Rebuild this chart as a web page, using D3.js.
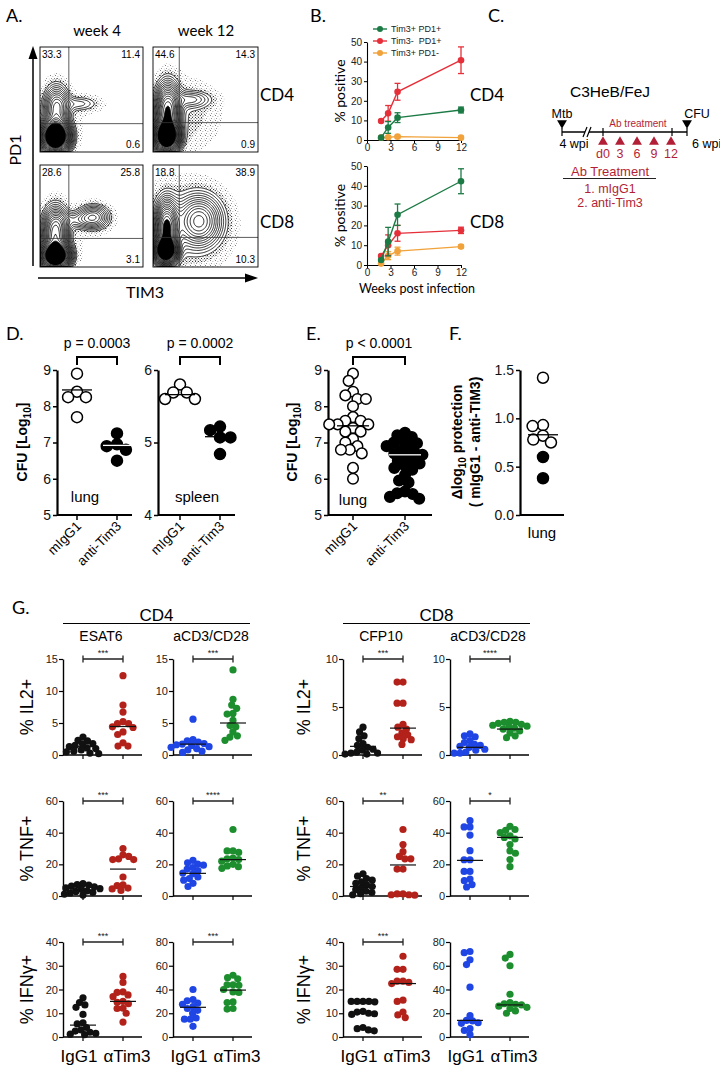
<!DOCTYPE html>
<html>
<head>
<meta charset="utf-8">
<title>Tim3 blockade figure</title>
<script src="https://d3js.org/d3.v7.min.js"></script>
<style>
  body { margin: 0; background: #fff; }
  svg { font-family: "Liberation Sans", Arial, sans-serif; }
  .soft { font-family: Lato, "Open Sans", sans-serif; }
  .tick text { font-family: "Liberation Sans", Arial, sans-serif; }
</style>
</head>
<body>
<svg width="720" height="1067"></svg>
<script>
// ---------- A: flow plots (quadrant %, gates, populations as gaussian blobs [u, v, su, sv, weight]) ----------
var flowCols = ["week 4", "week 12"];
var flowRows = ["CD4", "CD8"];
var quadPct = [["33.3", "11.4", "0.6"], ["44.6", "14.3", "0.9"], ["28.6", "25.8", "3.1"], ["18.8", "38.9", "10.3"]];
var gates = [[0.28, 0.27], [0.25, 0.28], [0.28, 0.28], [0.25, 0.29]];
var blobsCd4W4 = [[0.15, 0.15, 0.075, 0.085, 1.0], [0.16, 0.42, 0.07, 0.12, 0.22], [0.38, 0.46, 0.12, 0.045, 0.05], [0.25, 0.3, 0.2, 0.2, 0.006]];
var blobsCd4W12 = [[0.13, 0.15, 0.065, 0.08, 1.0], [0.14, 0.38, 0.065, 0.15, 0.5], [0.36, 0.5, 0.12, 0.05, 0.08], [0.28, 0.35, 0.22, 0.22, 0.025]];
var blobsCd8W4 = [[0.15, 0.11, 0.075, 0.07, 1.0], [0.15, 0.33, 0.07, 0.14, 0.4], [0.52, 0.49, 0.09, 0.07, 0.16], [0.34, 0.46, 0.14, 0.05, 0.06], [0.3, 0.3, 0.2, 0.2, 0.006]];
var blobsCd8W12 = [[0.12, 0.16, 0.06, 0.07, 1.0], [0.13, 0.38, 0.06, 0.15, 0.55], [0.44, 0.45, 0.12, 0.14, 0.28], [0.3, 0.4, 0.26, 0.26, 0.04]];
var flowLevels = [0.005, 0.014, 0.025, 0.035, 0.047, 0.06, 0.075, 0.092, 0.11, 0.13, 0.155, 0.18, 0.21, 0.24, 0.28, 0.32, 0.37, 0.42, 0.48, 0.55, 0.63, 0.72, 0.82, 0.92];

// ---------- B: % positive over weeks ----------
var bWeeks = [1.8, 2.7, 3.9, 12];
var bSeries = ["Tim3+ PD1+", "Tim3-  PD1+", "Tim3+ PD1-"];
var cd4DoublePos = [1.2, 6.4, 11.4, 15.3], cd4DoublePosErr = [0, 3, 2.5, 1.5];
var cd4Pd1Only = [9.7, 13.6, 24.6, 40.7], cd4Pd1OnlyErr = [0, 4, 4.3, 6.8];
var cd4Tim3Only = [1.2, 1.4, 1.7, 1.2], cd4Tim3OnlyErr = [0, 0.5, 0.6, 0.5];
var cd8DoublePos = [2.5, 11.8, 25.4, 42.3], cd8DoublePosErr = [0, 7.2, 5.4, 6.3];
var cd8Pd1Only = [4.5, 10, 16, 17.5], cd8Pd1OnlyErr = [0, 5.2, 4, 1.6];
var cd8Tim3Only = [0.7, 4.7, 7, 9.3], cd8Tim3OnlyErr = [0, 2, 2, 0.8];

// ---------- C: treatment schedule ----------
var doseDays = ["d0", "3", "6", "9", "12"];
var treatments = ["1. mIgG1", "2. anti-Tim3"];

// ---------- D / E / F: CFU ----------
var lungIgg1 = [8.9, 8.4, 8.25, 8.25, 7.7], lungTim3 = [7.25, 6.95, 6.9, 6.8, 6.5];
var spleenIgg1 = [5.8, 5.69, 5.69, 5.6, 5.6], spleenTim3 = [5.22, 5.17, 5.07, 5.07, 4.84];
var dMeans = [[8.45, 6.92], [5.66, 5.08]];
var eIgg1 = [8.9, 8.7, 8.4, 8.3, 8.2, 8.2, 8.0, 7.7, 7.6, 7.6, 7.5, 7.5, 7.5, 7.4, 7.3, 7.3, 7.1, 7.0, 6.9, 6.8, 6.8, 6.7, 6.3, 6.0];
var eTim3 = [7.27, 7.2, 7.15, 7.05, 7.0, 6.98, 6.9, 6.88, 6.8, 6.72, 6.7, 6.66, 6.6, 6.5, 6.48, 6.42, 6.35, 6.3, 6.25, 6.1, 5.95, 5.9, 5.65, 5.6, 5.58, 5.5, 5.45];
var eMeans = [7.46, 6.66];
var fOpen = [1.42, 0.93, 0.92, 0.82, 0.78, 0.75], fFilled = [0.6, 0.38], fMean = 0.83;

// ---------- G: cytokine dot plots ----------
var gStims = ["ESAT6", "aCD3/CD28", "CFP10", "aCD3/CD28"];
var gRows = ["% IL2+", "% TNF+", "% IFNγ+"];
var gGroups = ["IgG1", "αTim3"];
var gMax = [[15, 15, 10, 10], [60, 60, 60, 60], [40, 80, 40, 80]];
var gStep = [[5, 5, 5, 5], [20, 20, 20, 20], [10, 20, 10, 20]];
var gStars = [["***", "***", "***", "****"], ["***", "****", "**", "*"], ["***", "***", "***", ""]];
var il2Cd4Esat6Igg1 = [2.8, 2.3, 2.2, 1.8, 1.7, 1.5, 1.3, 1.1, 1.0, 0.8, 0.6, 0.5, 0.3, 0.2];
var il2Cd4Esat6Tim3 = [12.4, 7.8, 6.7, 5.2, 4.9, 4.9, 4.4, 4.3, 3.6, 3.2, 1.9, 1.4, 1.4];
var il2Cd4Cd3Igg1 = [5.6, 2.4, 2.2, 2.0, 1.8, 1.7, 1.6, 1.5, 1.3, 1.2, 1.0, 0.8, 0.6, 0.4];
var il2Cd4Cd3Tim3 = [13.3, 8.7, 7.8, 7.3, 6.5, 6.4, 5.4, 4.6, 4.4, 3.6, 3.0, 2.8, 2.3];
var il2Cd8Cfp10Igg1 = [2.9, 2.4, 2.0, 1.7, 1.2, 1.0, 0.8, 0.6, 0.5, 0.3, 0.2, 0.2, 0.1, 0.1];
var il2Cd8Cfp10Tim3 = [7.6, 7.6, 5.4, 5.4, 3.2, 2.9, 2.7, 2.3, 2.1, 1.9, 1.7, 1.6, 1.1];
var il2Cd8Cd3Igg1 = [2.2, 2.0, 1.9, 1.5, 1.3, 1.1, 1.0, 0.9, 0.8, 0.6, 0.5, 0.3, 0.2, 0.2];
var il2Cd8Cd3Tim3 = [3.5, 3.4, 3.4, 3.3, 3.2, 3.1, 3.0, 2.9, 2.8, 2.7, 2.5, 2.3, 2.0, 1.8];
var tnfCd4Esat6Igg1 = [7.8, 7.2, 6.9, 6.2, 5.8, 5.1, 4.6, 4.2, 3.3, 2.9, 2.2, 1.9, 1.2, 0.6];
var tnfCd4Esat6Tim3 = [30, 26, 25, 23.5, 23, 23, 12, 7, 6.5, 5, 4.5, 3.5];
var tnfCd4Cd3Igg1 = [22.5, 21, 20.2, 19.5, 18, 17, 16, 14.5, 14, 12, 11, 10, 8, 6];
var tnfCd4Cd3Tim3 = [42, 28.5, 28.5, 27.5, 24, 23.5, 23, 22, 20, 19, 18.5, 17.5];
var tnfCd8Cfp10Igg1 = [14, 12.5, 11, 10, 9, 8, 7, 6, 5.2, 4, 3, 2.2, 1.5, 0.8];
var tnfCd8Cfp10Tim3 = [42, 32.5, 28, 25, 23.5, 23.5, 17, 17, 1.3, 0.8, 0.8, 1.3, 0.5];
var tnfCd8Cd3Igg1 = [47.6, 43.6, 43.6, 38.5, 28.6, 22.9, 22.9, 15.5, 15.5, 10.7, 9.7, 7.2, 5.7];
var tnfCd8Cd3Tim3 = [44, 42, 41.5, 40, 38, 37, 36, 32.5, 28.5, 27, 23, 18.5];
var ifnCd4Esat6Igg1 = [16.5, 14.5, 13.5, 12.5, 9.5, 6, 5.5, 4, 3, 2.5, 2, 1.5, 1.2, 1];
var ifnCd4Esat6Tim3 = [25.5, 23, 19, 18.8, 17.7, 17, 15, 14.6, 14, 12.1, 12, 10, 6.3];
var ifnCd4Cd3Igg1 = [40, 31.5, 30.5, 28.5, 27.5, 25.5, 24, 22.5, 20, 16, 15, 15, 9];
var ifnCd4Cd3Tim3 = [52, 50, 49, 44, 44, 43.5, 40, 38, 37.5, 29.5, 29, 24, 23.5];
var ifnCd8Cfp10Igg1 = [15, 15, 15, 15, 14.8, 10.8, 10.5, 10, 9.8, 9.5, 4, 3.5, 3, 2.6];
var ifnCd8Cfp10Tim3 = [34, 28.5, 28.5, 23.5, 23, 22.5, 23.5, 15.5, 15, 10.5, 9.3, 8.2];
var ifnCd8Cd3Igg1 = [72, 71, 65, 61, 42, 18, 14, 13.5, 12, 11.5, 7, 5.5, 2];
var ifnCd8Cd3Tim3 = [69.5, 66.5, 60, 36, 29, 28, 27.5, 27, 26, 25, 24, 22, 20];
var il2Means = [[1.3, 4.45], [1.7, 5.0], [0.9, 2.8], [0.8, 2.7]];
var tnfMeans = [[3.8, 17], [14.3, 23], [6, 19.6], [22.5, 37]];
var ifnMeans = [[5, 15], [25, 39.5], [10, 22.5], [14, 27]];

var svg = d3.select("svg");

function label(x, y, s, size, opt) {
    opt = opt || {};
    var t = svg.append("text").attr("x", x).attr("y", y)
        .attr("font-size", size).attr("text-anchor", opt.anchor || "start")
        .attr("fill", opt.fill || "#000").text(s);
    if (opt.cls) t.attr("class", opt.cls);
    if (opt.bold) t.attr("font-weight", "bold");
    if (opt.rot) t.attr("transform", "rotate(" + opt.rot + "," + x + "," + y + ")");
    return t;
}

// non-overlapping dot layout, points pushed sideways from the group centre
function swarm(vals, y, cx, r, pack) {
    var d = 2 * r * (pack || 0.9), placed = [];
    vals.slice().sort(function(a, b) { return b - a; }).forEach(function(v) {
        var py = y(v), cands = [cx];
        placed.forEach(function(q) {
            var dy = Math.abs(q.y - py);
            if (dy < d) {
                var dx = Math.sqrt(d * d - dy * dy);
                cands.push(q.x - dx, q.x + dx);
            }
        });
        cands.sort(function(a, b) { return Math.abs(a - cx) - Math.abs(b - cx); });
        var px = cands.find(function(x) {
            return placed.every(function(q) { return (q.x - x) * (q.x - x) + (q.y - py) * (q.y - py) >= d * d - 0.01; });
        });
        placed.push({x: px, y: py, v: v});
    });
    return placed;
}

// ================= A =================
label(6, 22, "A.", 18, {cls: "soft"});
label(97, 36, flowCols[0], 15, {anchor: "middle", cls: "soft"});
label(206, 36, flowCols[1], 15, {anchor: "middle", cls: "soft"});
label(260, 101, flowRows[0], 17, {cls: "soft"});
label(260, 228, flowRows[1], 17, {cls: "soft"});

var defs = svg.append("defs");
var pat = defs.append("pattern").attr("id", "speck").attr("width", 5).attr("height", 5)
    .attr("patternUnits", "userSpaceOnUse");
[[0, 0, 0.8], [2.6, 1.3, 0.6], [1.2, 3.1, 0.7], [3.9, 3.8, 0.5]].forEach(function(p) {
    pat.append("rect").attr("x", p[0]).attr("y", p[1]).attr("width", p[2]).attr("height", p[2]).attr("fill", "#333");
});
var pat2 = defs.append("pattern").attr("id", "speck2").attr("width", 3).attr("height", 3)
    .attr("patternUnits", "userSpaceOnUse");
[[0, 0, 0.9], [1.6, 1.5, 0.8]].forEach(function(p) {
    pat2.append("rect").attr("x", p[0]).attr("y", p[1]).attr("width", p[2]).attr("height", p[2]).attr("fill", "#111");
});

var flowBoxes = [{x: 40, y: 47, w: 103, h: 105}, {x: 153, y: 47, w: 105, h: 105},
                 {x: 40, y: 165, w: 103, h: 102}, {x: 153, y: 165, w: 105, h: 102}];
var flowBlobs = [blobsCd4W4, blobsCd4W12, blobsCd8W4, blobsCd8W12];

flowBoxes.forEach(function(b, k) {
    var nx = 120, ny = 120, grid = new Array(nx * ny);
    for (var j = 0; j < ny; j++) {
        for (var i = 0; i < nx; i++) {
            var u = (i + 0.5) / nx, v = 1 - (j + 0.5) / ny, s = 0;
            flowBlobs[k].forEach(function(p) {
                var a = (u - p[0]) / p[2], c = (v - p[1]) / p[3];
                s += p[4] * Math.exp(-0.5 * (a * a + c * c));
            });
            grid[j * nx + i] = s;
        }
    }
    var mx = d3.max(grid);
    grid = grid.map(function(d) { return d / mx; });
    var conts = d3.contours().size([nx, ny]).thresholds(flowLevels)(grid);
    var path = d3.geoPath(d3.geoTransform({point: function(x, y) {
        this.stream.point(b.x + x * b.w / nx, b.y + y * b.h / ny);
    }}));
    var cid = "clip" + k;
    defs.append("clipPath").attr("id", cid).append("rect")
        .attr("x", b.x).attr("y", b.y).attr("width", b.w).attr("height", b.h);
    var g = svg.append("g").attr("clip-path", "url(#" + cid + ")");
    g.append("path").attr("d", path(conts[0])).attr("fill", "url(#speck)");
    g.append("path").attr("d", path(conts[1])).attr("fill", "url(#speck2)");
    g.append("path").attr("d", path(conts[2])).attr("fill", "#fff");
    g.selectAll("path.c").data(conts.slice(2)).join("path").attr("class", "c")
        .attr("d", path).attr("fill", "none").attr("stroke", "#000").attr("stroke-width", 0.85);
    g.append("path").attr("d", path(conts[17])).attr("fill", "#000");
    var gx = b.x + gates[k][0] * b.w, gy = b.y + (1 - gates[k][1]) * b.h;
    svg.append("line").attr("x1", gx).attr("x2", gx).attr("y1", b.y).attr("y2", b.y + b.h)
        .attr("stroke", "#333").attr("stroke-width", 0.8);
    svg.append("line").attr("x1", b.x).attr("x2", b.x + b.w).attr("y1", gy).attr("y2", gy)
        .attr("stroke", "#333").attr("stroke-width", 0.8);
    svg.append("rect").attr("x", b.x).attr("y", b.y).attr("width", b.w).attr("height", b.h)
        .attr("fill", "none").attr("stroke", "#000").attr("stroke-width", 0.9);
    label(b.x + 2, b.y + 11, quadPct[k][0], 10);
    label(b.x + b.w - 3, b.y + 11, quadPct[k][1], 10, {anchor: "end"});
    label(b.x + b.w - 3, b.y + b.h - 4, quadPct[k][2], 10, {anchor: "end"});
});

// axis arrows
svg.append("line").attr("x1", 33).attr("x2", 33).attr("y1", 266).attr("y2", 56).attr("stroke", "#000").attr("stroke-width", 1.5);
svg.append("path").attr("d", "M33,46 L28.5,59 L37.5,59 Z").attr("fill", "#000");
svg.append("line").attr("x1", 38).attr("x2", 248).attr("y1", 278).attr("y2", 278).attr("stroke", "#000").attr("stroke-width", 1.5);
svg.append("path").attr("d", "M258,278 L245,273.5 L245,282.5 Z").attr("fill", "#000");
label(21, 150, "PD1", 16, {anchor: "middle", rot: -90, cls: "soft"});
label(145, 298, "TIM3", 16, {anchor: "middle", cls: "soft"});

// ================= B =================
label(310, 22, "B.", 18, {cls: "soft"});
var bColors = ["#1c7a45", "#e5303a", "#f1a23a"];
var bx = d3.scaleLinear().domain([0, 12]).range([367, 461]);

function linePanel(yTop, yBot, vals, errs, legend) {
    var y = d3.scaleLinear().domain([0, 50]).range([yBot, yTop]);
    var ax = svg.append("g").attr("transform", "translate(367,0)")
        .call(d3.axisLeft(y).tickValues([0, 10, 20, 30, 40, 50]).tickSize(3).tickSizeOuter(0).tickPadding(2));
    var bxAxis = svg.append("g").attr("transform", "translate(0," + yBot + ")")
        .call(d3.axisBottom(bx).tickValues([0, 3, 6, 9, 12]).tickSize(3).tickSizeOuter(0).tickPadding(1));
    [ax, bxAxis].forEach(function(a) {
        a.selectAll("text").attr("font-size", 10).attr("fill", "#222");
        a.select(".domain").attr("stroke-width", 1.1);
    });
    [2, 1, 0].forEach(function(s) {
        var pts = bWeeks.map(function(w, i) { return {x: bx(w), y: y(vals[s][i]), lo: y(vals[s][i] - errs[s][i]), hi: y(vals[s][i] + errs[s][i])}; });
        var g = svg.append("g").attr("stroke", bColors[s]).attr("fill", bColors[s]);
        g.append("path").attr("d", d3.line().x(function(d) { return d.x; }).y(function(d) { return d.y; })(pts))
            .attr("fill", "none").attr("stroke-width", 1.4);
        pts.forEach(function(p) {
            if (p.hi !== p.y) {
                g.append("line").attr("x1", p.x).attr("x2", p.x).attr("y1", p.lo).attr("y2", p.hi).attr("stroke-width", 1.3);
                g.append("line").attr("x1", p.x - 3).attr("x2", p.x + 3).attr("y1", p.lo).attr("y2", p.lo).attr("stroke-width", 1.3);
                g.append("line").attr("x1", p.x - 3).attr("x2", p.x + 3).attr("y1", p.hi).attr("y2", p.hi).attr("stroke-width", 1.3);
            }
            g.append("circle").attr("cx", p.x).attr("cy", p.y).attr("r", 3.3).attr("stroke", "none");
        });
    });
    if (legend) {
        bSeries.forEach(function(name, s) {
            var ly = 29 + s * 12;
            svg.append("line").attr("x1", 373).attr("x2", 387).attr("y1", ly).attr("y2", ly).attr("stroke", bColors[s]).attr("stroke-width", 1.4);
            svg.append("circle").attr("cx", 380).attr("cy", ly).attr("r", 3).attr("fill", bColors[s]);
            label(391, ly + 3, name, 9, {fill: "#222"}).attr("xml:space", "preserve");
        });
    }
    label(345, (yTop + yBot) / 2, "% positive", 14, {anchor: "middle", rot: -90, cls: "soft"});
}
linePanel(42, 140, [cd4DoublePos, cd4Pd1Only, cd4Tim3Only], [cd4DoublePosErr, cd4Pd1OnlyErr, cd4Tim3OnlyErr], true);
linePanel(166, 265, [cd8DoublePos, cd8Pd1Only, cd8Tim3Only], [cd8DoublePosErr, cd8Pd1OnlyErr, cd8Tim3OnlyErr], false);
label(470, 101, "CD4", 17, {cls: "soft"});
label(470, 228, "CD8", 17, {cls: "soft"});
label(417, 293, "Weeks post infection", 12.5, {anchor: "middle", cls: "soft"});

// ================= C =================
var cRed = "#b31f36";
label(488, 22, "C.", 18, {cls: "soft"});
label(610, 97, "C3HeB/FeJ", 15.5, {anchor: "middle"});
var tri = d3.symbol().type(d3.symbolTriangle).size(42);
svg.append("line").attr("x1", 562).attr("x2", 687).attr("y1", 132).attr("y2", 132).attr("stroke", "#000").attr("stroke-width", 1.4);
[562, 603, 672, 687].forEach(function(x) {
    svg.append("line").attr("x1", x).attr("x2", x).attr("y1", 128).attr("y2", 136).attr("stroke", "#000").attr("stroke-width", 1.2);
});
svg.append("rect").attr("x", 585).attr("y", 128).attr("width", 4).attr("height", 8).attr("fill", "#fff");
[585, 589].forEach(function(x) {
    svg.append("line").attr("x1", x - 2).attr("x2", x + 2).attr("y1", 137).attr("y2", 127).attr("stroke", "#000").attr("stroke-width", 1.2);
});
[562, 687].forEach(function(x) {
    svg.append("path").attr("d", tri()).attr("transform", "translate(" + x + ",123) rotate(180)").attr("fill", "#000");
});
label(562, 118, "Mtb", 12.5, {anchor: "middle"});
label(697, 118, "CFU", 12.5, {anchor: "middle"});
label(638, 127, "Ab treatment", 10, {anchor: "middle", fill: cRed});
label(574, 148, "4 wpi", 12.5, {anchor: "middle"});
label(692, 148, "6 wpi", 12.5);
var doseX = d3.scalePoint().domain(doseDays).range([603, 671]);
doseDays.forEach(function(d) {
    svg.append("path").attr("d", tri()).attr("transform", "translate(" + doseX(d) + ",142)").attr("fill", cRed);
    label(doseX(d), 158, d, 12.5, {anchor: "middle", fill: cRed});
});
label(610, 176, "Ab Treatment", 13, {anchor: "middle", fill: cRed});
svg.append("line").attr("x1", 563).attr("x2", 656).attr("y1", 178.5).attr("y2", 178.5).attr("stroke", "#222").attr("stroke-width", 1.2);
treatments.forEach(function(t, i) {
    label(610, 193 + i * 13.5, t, 12.5, {anchor: "middle", fill: cRed});
});

// ================= D / E / F =================
function cfuAxes(axX, width, ticksAt, domain, ticks, fmt) {
    var y = d3.scaleLinear().domain(domain).range([515, 370]);
    var a = svg.append("g").attr("transform", "translate(" + axX + ",0)")
        .call(d3.axisLeft(y).tickValues(ticks).tickFormat(fmt).tickSize(4).tickSizeOuter(0).tickPadding(2));
    a.selectAll("text").attr("font-size", 14).attr("fill", "#111");
    a.selectAll("line").attr("stroke-width", 1.5);
    a.select(".domain").attr("stroke-width", 2.2);
    svg.append("line").attr("x1", axX).attr("x2", axX + width).attr("y1", 515).attr("y2", 515).attr("stroke", "#000").attr("stroke-width", 2.2);
    ticksAt.forEach(function(cx) {
        svg.append("line").attr("x1", cx).attr("x2", cx).attr("y1", 515).attr("y2", 520).attr("stroke", "#000").attr("stroke-width", 1.5);
    });
    return y;
}
function cfuDots(vals, filledVals, y, cx, r, pack) {
    swarm(vals, y, cx, r, pack).forEach(function(p) {
        var filled = filledVals === true || (filledVals && filledVals.indexOf(p.v) >= 0);
        svg.append("circle").attr("cx", p.x).attr("cy", p.y).attr("r", r)
            .attr("fill", filled ? "#000" : "#fff").attr("stroke", "#000").attr("stroke-width", 1.5);
    });
}
function meanLine(cx, yy, half, col) {
    svg.append("line").attr("x1", cx - half).attr("x2", cx + half).attr("y1", yy).attr("y2", yy)
        .attr("stroke", col || "#000").attr("stroke-width", 1.3);
}
function pBracket(x1, x2, text) {
    svg.append("path").attr("d", "M" + x1 + ",365 V357 H" + x2 + " V365").attr("fill", "none")
        .attr("stroke", "#000").attr("stroke-width", 2);
    label((x1 + x2) / 2, 348, text, 14, {anchor: "middle"});
}
function rotTick(x, s) {
    label(x + 5, 527, s, 13.5, {anchor: "end", rot: -45});
}
function cfuYLabel(x) {
    var t = label(x, 442, "CFU [Log", 14, {anchor: "middle", rot: -90, bold: true});
    t.append("tspan").attr("font-size", 10).attr("dy", 4).text("10");
    t.append("tspan").attr("dy", -4).text("]");
}

label(6, 340, "D.", 18, {cls: "soft"});
var dLung = cfuAxes(57, 75, [77, 117], [5, 9], [5, 6, 7, 8, 9], d3.format("d"));
cfuDots(lungIgg1, null, dLung, 77, 5.5, 0.95);
cfuDots(lungTim3, true, dLung, 117, 5.5, 0.95);
meanLine(77, dLung(dMeans[0][0]), 15);
meanLine(117, dLung(dMeans[0][1]), 14, "#fff");
var dSpleen = cfuAxes(158, 77, [180, 220], [4, 6], [4, 5, 6], d3.format("d"));
cfuDots(spleenIgg1, null, dSpleen, 180, 5.5, 0.95);
cfuDots(spleenTim3, true, dSpleen, 220, 5.5, 0.95);
meanLine(180, dSpleen(dMeans[1][0]), 15);
meanLine(220, dSpleen(dMeans[1][1]), 15);
pBracket(77, 117, "p = 0.0003");
pBracket(180, 220, "p = 0.0002");
label(85, 502, "lung", 15, {anchor: "middle"});
label(197, 502, "spleen", 15, {anchor: "middle"});
rotTick(77, "mIgG1"); rotTick(117, "anti-Tim3");
rotTick(180, "mIgG1"); rotTick(220, "anti-Tim3");
cfuYLabel(27);

label(306, 340, "E.", 18, {cls: "soft"});
var eY = cfuAxes(328, 104, [353, 405], [5, 9], [5, 6, 7, 8, 9], d3.format("d"));
cfuDots(eIgg1, null, eY, 353, 5.3, 0.8);
cfuDots(eTim3, true, eY, 405, 5.3, 0.76);
meanLine(353, eY(eMeans[0]), 16);
meanLine(405, eY(eMeans[1]), 16, "#fff");
pBracket(353, 405, "p < 0.0001");
label(353, 505, "lung", 15, {anchor: "middle"});
rotTick(353, "mIgG1"); rotTick(405, "anti-Tim3");
cfuYLabel(297);

label(449, 340, "F.", 18, {cls: "soft"});
var fY = cfuAxes(520, 44, [], [0, 1.5], [0, 0.5, 1.0, 1.5], d3.format(".1f"));
cfuDots(fOpen.concat(fFilled), fFilled, fY, 543, 5.5, 0.95);
meanLine(543, fY(fMean), 15);
label(542, 538, "lung", 15, {anchor: "middle"});
var fl = label(462, 442, "Δlog", 14, {anchor: "middle", rot: -90, bold: true});
fl.append("tspan").attr("font-size", 10).attr("dy", 4).text("10");
fl.append("tspan").attr("dy", -4).text(" protection");
label(480, 442, "( mIgG1 - anti-TIM3)", 14, {anchor: "middle", rot: -90, bold: true});

// ================= G =================
var gCols = [63, 173, 343, 450];
var gRowTop = [659, 801, 942], gRowBot = [755, 896, 1037];
var gColors = [["#111", "#b3221a"], ["#1f45e4", "#1d8e2e"], ["#111", "#b3221a"], ["#1f45e4", "#1d8e2e"]];
var gData = [
    [[il2Cd4Esat6Igg1, il2Cd4Esat6Tim3], [il2Cd4Cd3Igg1, il2Cd4Cd3Tim3], [il2Cd8Cfp10Igg1, il2Cd8Cfp10Tim3], [il2Cd8Cd3Igg1, il2Cd8Cd3Tim3]],
    [[tnfCd4Esat6Igg1, tnfCd4Esat6Tim3], [tnfCd4Cd3Igg1, tnfCd4Cd3Tim3], [tnfCd8Cfp10Igg1, tnfCd8Cfp10Tim3], [tnfCd8Cd3Igg1, tnfCd8Cd3Tim3]],
    [[ifnCd4Esat6Igg1, ifnCd4Esat6Tim3], [ifnCd4Cd3Igg1, ifnCd4Cd3Tim3], [ifnCd8Cfp10Igg1, ifnCd8Cfp10Tim3], [ifnCd8Cd3Igg1, ifnCd8Cd3Tim3]]
];
var gMeans = [il2Means, tnfMeans, ifnMeans];

label(12, 614, "G.", 18, {cls: "soft"});
[[63, 250, "CD4"], [343, 530, "CD8"]].forEach(function(h) {
    label((h[0] + h[1]) / 2, 621, h[2], 17, {anchor: "middle"});
    svg.append("line").attr("x1", h[0]).attr("x2", h[1]).attr("y1", 623.5).attr("y2", 623.5).attr("stroke", "#000").attr("stroke-width", 1.2);
});
gStims.forEach(function(s, c) {
    label(gCols[c] + 38, 641, s, 14, {anchor: "middle"});
});

gRows.forEach(function(rowName, r) {
    [33, 310].forEach(function(x) {
        label(x, (gRowTop[r] + gRowBot[r]) / 2, rowName, 18, {anchor: "middle", rot: -90});
    });
    gCols.forEach(function(ax, c) {
        var y = d3.scaleLinear().domain([0, gMax[r][c]]).range([gRowBot[r], gRowTop[r]]);
        var a = svg.append("g").attr("transform", "translate(" + ax + ",0)")
            .call(d3.axisLeft(y).tickValues(d3.range(0, gMax[r][c] + 0.01, gStep[r][c])).tickSize(4).tickSizeOuter(0).tickPadding(1));
        a.selectAll("text").attr("font-size", 11).attr("fill", "#222");
        a.select(".domain").attr("stroke-width", 1.4);
        a.selectAll(".tick line").attr("stroke-width", 1.2);
        svg.append("line").attr("x1", ax).attr("x2", ax + 79).attr("y1", gRowBot[r]).attr("y2", gRowBot[r]).attr("stroke", "#000").attr("stroke-width", 1.4);
        [20, 60].forEach(function(o, gi) {
            var cx = ax + o;
            svg.append("line").attr("x1", cx).attr("x2", cx).attr("y1", gRowBot[r]).attr("y2", gRowBot[r] + 4).attr("stroke", "#000").attr("stroke-width", 1.2);
            swarm(gData[r][c][gi], y, cx, 3.6, 0.82).forEach(function(p) {
                svg.append("circle").attr("cx", p.x).attr("cy", p.y).attr("r", 3.6).attr("fill", gColors[c][gi]);
            });
            var m = y(gMeans[r][c][gi]);
            svg.append("line").attr("x1", cx - 13).attr("x2", cx + 13).attr("y1", m).attr("y2", m).attr("stroke", "#111").attr("stroke-width", 1.2);
        });
        if (gStars[r][c]) {
            var by = gRowTop[r];
            svg.append("path").attr("d", "M" + (ax + 20) + "," + (by - 3.5) + " V" + (by + 3.5) + " M" + (ax + 20) + "," + by + " H" + (ax + 60) + " M" + (ax + 60) + "," + (by - 3.5) + " V" + (by + 3.5))
                .attr("fill", "none").attr("stroke", "#222").attr("stroke-width", 1.3);
            label(ax + 40, by - 3, gStars[r][c], 9, {anchor: "middle", fill: "#222"});
        }
        if (r === 2) {
            label(ax + 16, 1062, gGroups[0], 17, {anchor: "middle"});
            label(ax + 64, 1062, gGroups[1], 17, {anchor: "middle"});
        }
    });
});
</script>
</body>
</html>
